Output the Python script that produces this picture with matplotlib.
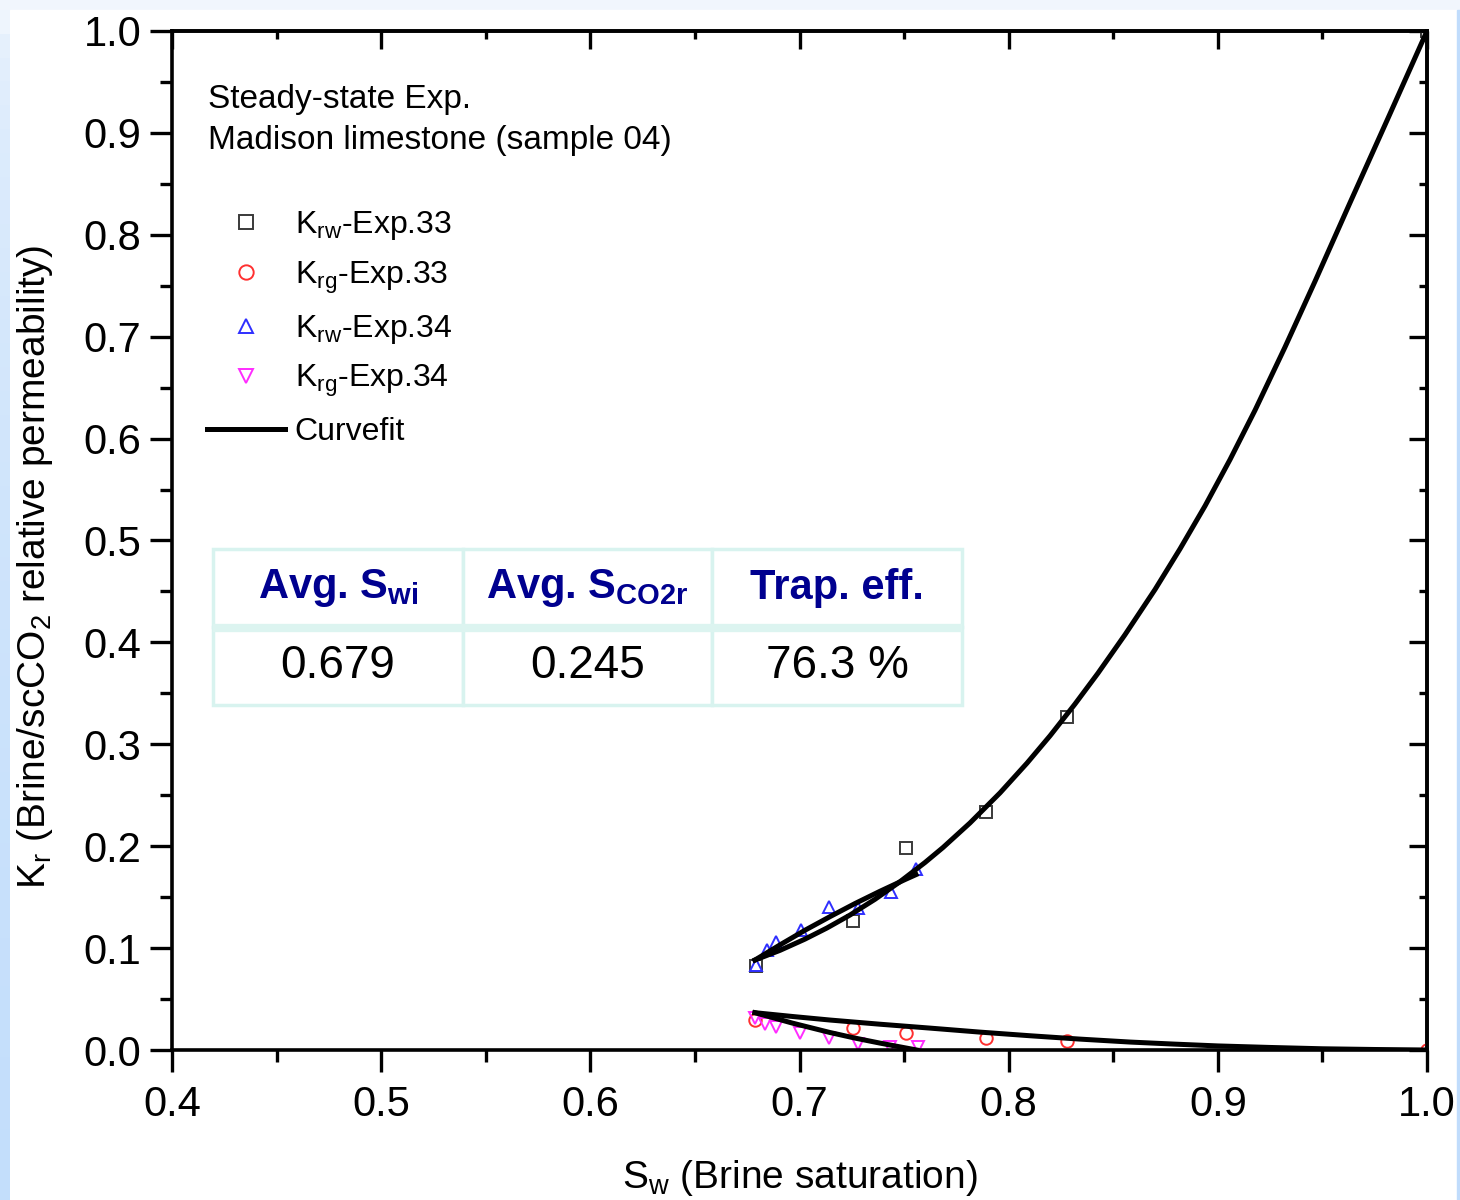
import numpy as np
import matplotlib
matplotlib.use("Agg")
import matplotlib.pyplot as plt
from matplotlib.patches import Rectangle
from matplotlib.colors import LinearSegmentedColormap
from matplotlib.ticker import MultipleLocator

plt.rcParams['font.family'] = ['Liberation Sans', 'DejaVu Sans']
plt.rcParams['mathtext.fontset'] = 'custom'
plt.rcParams['mathtext.rm'] = 'Liberation Sans'
plt.rcParams['mathtext.it'] = 'Liberation Sans'
plt.rcParams['mathtext.bf'] = 'Liberation Sans:bold'
plt.rcParams['mathtext.default'] = 'rm'

##=============== data ========================================

sw_krw33 = [0.679, 0.7255, 0.751, 0.7894, 0.828, 1.0]
krw33 = [0.0824, 0.1269, 0.198, 0.2333, 0.3271, 1.0]

sw_krg33 = [0.6787, 0.7256, 0.751, 0.7894, 0.8277, 1.0]
krg33 = [0.0294, 0.0213, 0.0164, 0.0121, 0.0091, 0.0]

sw_krw34 = [0.679, 0.6843, 0.6887, 0.7007, 0.7141, 0.728, 0.7437, 0.7557]
krw34 = [0.083, 0.098, 0.1063, 0.1178, 0.1403, 0.139, 0.1554, 0.1776]

sw_krg34 = [0.6787, 0.6835, 0.6887, 0.7002, 0.7142, 0.728, 0.7433, 0.7568]
krg34 = [0.031, 0.026, 0.023, 0.0165, 0.0115, 0.0062, 0.003, 0.003]

# curve fits
fit_sw_w33 = [0.6787, 0.6907, 0.7026, 0.7131, 0.7241, 0.7361, 0.748, 0.760, 0.7686,
              0.7815, 0.7959, 0.8088, 0.8198, 0.8317, 0.8427, 0.8556, 0.870,
              0.8819, 0.8939, 0.9058, 0.9178, 0.9321, 0.9465, 0.9632, 0.9814, 1.0]
fit_kr_w33 = [0.0883, 0.0978, 0.1088, 0.1197, 0.1324, 0.1479, 0.1651, 0.184, 0.1987,
              0.2228, 0.2524, 0.2816, 0.3084, 0.3395, 0.3698, 0.4075, 0.452,
              0.4917, 0.534, 0.5793, 0.6279, 0.6897, 0.7545, 0.8315, 0.9146, 1.0]

fit_sw_w34 = [0.6787, 0.6907, 0.7026, 0.7146, 0.7266, 0.7385, 0.7505, 0.7557]
fit_kr_w34 = [0.0883, 0.1032, 0.1175, 0.1309, 0.1438, 0.1558, 0.1673, 0.1721]

fit_sw_g33 = [0.6787, 0.6966, 0.7146, 0.7385, 0.7623, 0.786, 0.8101, 0.834, 0.858,
              0.879, 0.90, 0.925, 0.95, 0.975, 1.0]
fit_kr_g33 = [0.0366, 0.0329, 0.0294, 0.0253, 0.0215, 0.0176, 0.014, 0.0107, 0.0078,
              0.0058, 0.004, 0.0025, 0.0012, 0.0005, 0.0]

fit_sw_g34 = [0.6787, 0.6966, 0.7145, 0.7265, 0.7384, 0.7472, 0.756]
fit_kr_g34 = [0.0366, 0.0264, 0.0172, 0.0117, 0.0068, 0.0034, 0.0]

table_head = [r'Avg. S$_\mathbf{wi}$', r'Avg. S$_\mathbf{CO2r}$', 'Trap. eff.']
table_vals = ['0.679', '0.245', '76.3 %']

##=============== figure ====================

W, H = 1460, 1200
fig = plt.figure(figsize=(W / 100, H / 100), dpi=100)

# slide-like border
fig.patches.append(Rectangle((0, 0), 1, 1, transform=fig.transFigure,
                             color='#f1f6fd', zorder=-3))
fig.patches.append(Rectangle((10 / W, 0), 1447 / W, 1 - 10 / H, transform=fig.transFigure,
                             color='white', zorder=-2))
strip = fig.add_axes([0, 0, 10 / W, 1 - 10 / H], zorder=-1)
strip_cmap = LinearSegmentedColormap.from_list('strip', ['#eef5fd', '#c3defb'])
strip.imshow(np.linspace(0, 1, 50).reshape(-1, 1) ** 0.4, aspect='auto', cmap=strip_cmap,
             vmin=0, vmax=1, extent=[0, 1, 0, 1])
strip.set_axis_off()
fig.patches.append(Rectangle((1457 / W, 0), 3 / W, 1 - 10 / H, transform=fig.transFigure,
                             color='#c0dcfc', zorder=-1))

ax = fig.add_axes([172 / W, 150 / H, 1255 / W, 1019 / H])
ax.set_facecolor('white')

lw_fit = 3.6
ax.plot(fit_sw_w33, fit_kr_w33, '-', color='black', lw=lw_fit, label='Curvefit', zorder=3)
ax.plot(fit_sw_w34, fit_kr_w34, '-', color='black', lw=lw_fit, zorder=3)
ax.plot(fit_sw_g33, fit_kr_g33, '-', color='black', lw=lw_fit, zorder=3)
ax.plot(fit_sw_g34, fit_kr_g34, '-', color='black', lw=lw_fit, zorder=3)

ms = 9
ax.plot(sw_krw33, krw33, 's', mfc='none', mec='#3a3a3a', ms=ms, mew=1.4,
        label=r'K$_{rw}$-Exp.33', zorder=2)
ax.plot(sw_krg33, krg33, 'o', mfc='none', mec='#ff3030', ms=ms, mew=1.4,
        label=r'K$_{rg}$-Exp.33', zorder=2)
ax.plot(sw_krw34, krw34, '^', mfc='none', mec='#2f2fff', ms=ms, mew=1.4,
        label=r'K$_{rw}$-Exp.34', zorder=2)
ax.plot(sw_krg34, krg34, 'v', mfc='none', mec='#ff2cff', ms=ms, mew=1.4,
        label=r'K$_{rg}$-Exp.34', zorder=2)

ax.set_xlim(0.4, 1.0)
ax.set_ylim(0.0, 1.0)
ax.xaxis.set_major_locator(MultipleLocator(0.1))
ax.xaxis.set_minor_locator(MultipleLocator(0.05))
ax.yaxis.set_major_locator(MultipleLocator(0.1))
ax.yaxis.set_minor_locator(MultipleLocator(0.05))

for s in ax.spines.values():
    s.set_linewidth(2.6)
ax.tick_params(which='major', direction='out', length=16, width=2.4, labelsize=30,
               top=False, right=False, pad=6)
ax.tick_params(which='minor', direction='out', length=8.5, width=2.4, top=False, right=False)
ax.tick_params(axis='x', which='major', pad=9)

# mirrored ticks pointing inside
sx = ax.secondary_xaxis('top')
sx.xaxis.set_major_locator(MultipleLocator(0.1))
sx.xaxis.set_minor_locator(MultipleLocator(0.05))
sx.tick_params(which='major', direction='in', length=13, width=2.4, labeltop=False)
sx.tick_params(which='minor', direction='in', length=6, width=2.4)
sx.spines['top'].set_linewidth(2.6)
sy = ax.secondary_yaxis('right')
sy.yaxis.set_major_locator(MultipleLocator(0.1))
sy.yaxis.set_minor_locator(MultipleLocator(0.05))
sy.tick_params(which='major', direction='in', length=13, width=2.4, labelright=False)
sy.tick_params(which='minor', direction='in', length=6, width=2.4)
sy.spines['right'].set_linewidth(2.6)

ax.set_xlabel(r'S$_w$ (Brine saturation)', fontsize=28)
ax.set_ylabel(r'K$_r$ (Brine/scCO$_2$ relative permeability)', fontsize=28)
ax.xaxis.set_label_coords(0.5, -0.106)
ax.yaxis.set_label_coords(-0.093, 0.474)

ax.text(0.0287, 0.933, 'Steady-state Exp.', fontsize=24, va='center', transform=ax.transAxes)
ax.text(0.0287, 0.893, 'Madison limestone (sample 04)', fontsize=24, va='center',
        transform=ax.transAxes)

handles, labels = ax.get_legend_handles_labels()
order = [1, 2, 3, 4, 0]
ax.legend([handles[i] for i in order], [labels[i] for i in order],
          loc='upper left', bbox_to_anchor=(0.0279, 0.825), frameon=False,
          fontsize=23, handlelength=2.45, handletextpad=0.3, labelspacing=0.54,
          borderpad=0, borderaxespad=0, markerscale=1.15)

##=============== table ====================

tx0, tx1 = (213 - 172) / 1255, (962 - 172) / 1255
ty0, ty1 = (1050 - 705) / 1019, (1050 - 549) / 1019
tbl = ax.table(cellText=[table_head, table_vals], cellLoc='center',
               bbox=[tx0, ty0, tx1 - tx0, ty1 - ty0])
tbl.auto_set_font_size(False)
for (r, c), cell in tbl.get_celld().items():
    cell.set_edgecolor('#d8f3ef')
    cell.set_linewidth(2.5)
    cell.set_facecolor('white')
    t = cell.get_text()
    if r == 0:
        t.set_fontsize(30)
        t.set_fontweight('bold')
        t.set_color('#00008f')
    else:
        t.set_fontsize(33)
        t.set_color('black')
sep_y = (1050 - 628) / 1019
ax.plot([tx0, tx1], [sep_y, sep_y], color='#dcf4f0', lw=6, transform=ax.transAxes,
        zorder=10, solid_capstyle='butt')

plt.savefig('out.png', dpi=100)
